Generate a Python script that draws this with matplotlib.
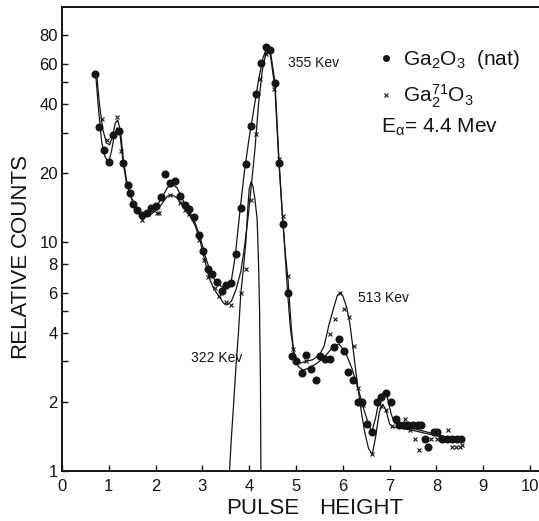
import numpy as np
import matplotlib
matplotlib.use("Agg")
import matplotlib.pyplot as plt
from matplotlib.lines import Line2D
from matplotlib.ticker import FixedLocator, NullFormatter

plt.rcParams['font.family'] = ['Liberation Sans', 'DejaVu Sans']
plt.rcParams['mathtext.default'] = 'regular'

INK = '#151515'

# Ga2O3 (nat) measured points
nat_x = [0.71, 0.80, 0.90, 1.01, 1.10, 1.21, 1.30, 1.41, 1.46, 1.51, 1.61, 1.71,
         1.81, 1.91, 2.01, 2.11, 2.21, 2.31, 2.42, 2.52, 2.62, 2.72, 2.82, 2.93,
         3.01, 3.11, 3.21, 3.31, 3.41, 3.51, 3.61, 3.72, 3.82, 3.94, 4.04, 4.15,
         4.26, 4.35, 4.45, 4.56, 4.63, 4.73, 4.83, 4.92, 5.01, 5.12, 5.22, 5.32,
         5.42, 5.52, 5.62, 5.72, 5.82, 5.92, 6.02, 6.12, 6.22, 6.32, 6.41, 6.52,
         6.63, 6.74, 6.82, 6.92, 7.02, 7.13, 7.20, 7.30, 7.40, 7.50, 7.60, 7.67,
         7.76, 7.83, 7.95, 8.02, 8.13, 8.23, 8.33, 8.43, 8.53]
nat_y = [54, 31.8, 25.1, 22.2, 29.3, 30.5, 22.1, 17.7, 16.3, 14.6, 13.8, 13.1,
         13.3, 14.0, 14.3, 15.7, 19.8, 18.0, 18.5, 15.9, 14.4, 13.9, 12.8, 10.7,
         9.1, 7.6, 7.2, 6.7, 6.1, 6.5, 6.6, 8.8, 14.1, 21.9, 31.9, 44.3,
         60.5, 70.6, 68.7, 49.2, 22.0, 11.9, 5.95, 3.18, 3.02, 2.68, 3.2, 2.78,
         2.49, 3.18, 3.07, 3.07, 3.48, 3.76, 3.32, 2.70, 2.50, 2.0, 2.0, 1.60,
         1.48, 2.0, 2.10, 2.18, 2.0, 1.69, 1.59, 1.59, 1.59, 1.59, 1.59, 1.59,
         1.38, 1.27, 1.48, 1.48, 1.38, 1.38, 1.38, 1.38, 1.38]

# Ga71 2O3 measured points
g71_x = [0.85, 0.96, 1.17, 1.27, 1.71, 2.02, 2.07, 2.31, 2.53, 2.62, 2.71, 2.92,
         3.03, 3.13, 3.27, 3.36, 3.50, 3.61, 3.83, 3.94, 4.03, 4.15, 4.24, 4.35,
         4.52, 4.63, 4.73, 4.83, 4.93, 5.22, 5.72, 5.83, 5.94, 6.02, 6.13, 6.24,
         6.32, 6.44, 6.63, 6.81, 6.92, 7.06, 7.32, 7.43, 7.54, 7.63, 7.88, 8.02,
         8.24, 8.34, 8.42, 8.50, 8.55]
g71_y = [34.3, 27.8, 35.0, 25.0, 12.4, 13.4, 13.4, 16.0, 14.8, 13.7, 13.2, 10.2,
         8.3, 7.0, 6.3, 5.8, 5.43, 5.3, 6.0, 7.6, 15.2, 29.7, 51.3, 66.0,
         46.4, 23.0, 12.9, 7.1, 3.4, 3.02, 3.96, 4.6, 6.0, 5.1, 4.67, 3.5,
         2.29, 1.93, 1.18, 1.92, 1.84, 1.56, 1.69, 1.5, 1.37, 1.23, 1.37, 1.37,
         1.5, 1.27, 1.27, 1.27, 1.3]

# hand-drawn curve through the nat points
nat_fit_x = [0.72, 0.78, 0.85, 0.92, 1.00, 1.06, 1.12, 1.18, 1.24, 1.30, 1.38, 1.46,
             1.55, 1.65, 1.75, 1.85, 1.95, 2.05, 2.15, 2.25, 2.35, 2.45, 2.55, 2.65,
             2.75, 2.85, 2.95, 3.05, 3.15, 3.25, 3.35, 3.45, 3.55, 3.62, 3.70, 3.80,
             3.90, 4.00, 4.10, 4.20, 4.30, 4.37, 4.45, 4.55, 4.63, 4.70, 4.75, 4.82,
             4.88, 4.95, 5.05, 5.15, 5.30, 5.45, 5.56, 5.70, 5.81, 5.92, 6.06, 6.20,
             6.35, 6.45, 6.55, 6.62, 6.70, 6.78, 6.87, 6.95, 7.03, 7.10, 7.50, 8.00,
             8.55]
nat_fit_y = [54, 38, 27, 23.5, 22.3, 25, 29.5, 31.5, 29.5, 22.5, 18, 16,
             14.4, 13.5, 13.2, 13.4, 13.9, 14.6, 15.8, 17.2, 17.8, 17.3, 15.8, 14.2,
             13.2, 12.0, 10.5, 8.8, 7.6, 6.9, 6.5, 6.3, 6.4, 6.8, 8.6, 13.5,
             20.5, 28.5, 38, 51, 64, 70, 68.5, 50, 24, 14, 10, 6,
             4.2, 3.3, 2.85, 2.75, 2.82, 2.95, 3.07, 3.3, 3.51, 3.58, 3.28, 2.78,
             2.2, 1.85, 1.6, 1.48, 1.7, 2.05, 2.2, 2.1, 1.78, 1.62, 1.53, 1.44,
             1.35]

# hand-drawn curve through the Ga71 points
g71_fit_x = [0.74, 0.80, 0.87, 0.95, 1.02, 1.08, 1.14, 1.19, 1.25, 1.31, 1.38, 1.46,
             1.55, 1.65, 1.75, 1.85, 1.95, 2.05, 2.15, 2.25, 2.35, 2.45, 2.55, 2.65,
             2.75, 2.85, 2.95, 3.05, 3.15, 3.25, 3.35, 3.45, 3.52, 3.62, 3.72, 3.82,
             3.90, 3.98, 4.05, 4.12, 4.20, 4.28, 4.36, 4.45, 4.55, 4.63, 4.70, 4.77,
             4.83, 4.90, 4.95, 5.02, 5.10, 5.20, 5.35, 5.50, 5.60, 5.70, 5.80, 5.88,
             5.94, 6.00, 6.08, 6.15, 6.22, 6.30, 6.38, 6.46, 6.55, 6.63, 6.70, 6.78,
             6.85, 6.92, 7.00, 7.08, 7.50, 8.00, 8.55]
g71_fit_y = [54, 40, 31, 27, 26.5, 29, 33, 34, 30.5, 23, 18.5, 16,
             14.3, 13.2, 12.8, 13.0, 13.4, 13.9, 14.8, 15.8, 16.0, 15.6, 14.7, 13.6,
             12.8, 11.7, 10.1, 8.3, 6.9, 6.2, 5.8, 5.4, 5.3, 5.5, 6.2, 7.4,
             9.5, 13, 18, 25, 40, 56, 67, 66, 47, 23, 14, 9,
             6.8, 4.2, 3.3, 3.05, 2.95, 3.0, 3.05, 3.2, 3.5, 4.3, 5.1, 5.8,
             6.0, 5.8, 5.2, 4.4, 3.4, 2.5, 1.9, 1.5, 1.25, 1.18, 1.4, 1.8,
             1.95, 1.85, 1.6, 1.55, 1.5, 1.42, 1.35]

# resolved 322 keV line
p322_x = [3.58, 3.62, 3.67, 3.72, 3.77, 3.82, 3.88, 3.93, 3.97, 4.00, 4.04, 4.08,
          4.12, 4.17, 4.20, 4.22, 4.24, 4.25]
p322_y = [1.0, 1.4, 2.0, 2.9, 4.0, 5.9, 7.8, 10, 14, 17, 18.3, 17.5,
          15.5, 12.5, 8, 5.2, 2.5, 1.0]

y_major = [1, 2, 4, 6, 8, 10, 20, 40, 60, 80]
y_minor = [3, 5, 30, 50]
x_major = list(range(0, 11))

fig = plt.figure(figsize=(5.39, 5.21), dpi=100)
ax = fig.add_axes([62 / 539, 50.3 / 521, 477 / 539, 463.7 / 521])

ax.plot(nat_fit_x, nat_fit_y, color=INK, lw=0.9)
ax.plot(g71_fit_x, g71_fit_y, color=INK, lw=0.9)
ax.plot(p322_x, p322_y, color=INK, lw=0.9)
ax.plot(nat_x, nat_y, 'o', color=INK, ms=4.8, mec=INK)
ax.plot(g71_x, g71_y, 'x', color=INK, ms=2.8, mew=0.8)

ax.set_yscale('log')
ax.set_xlim(0, 477 / 46.8)
ax.set_ylim(1, 106)
ax.yaxis.set_major_locator(FixedLocator(y_major))
ax.set_yticklabels([str(v) for v in y_major])
ax.yaxis.set_minor_locator(FixedLocator(y_minor))
ax.yaxis.set_minor_formatter(NullFormatter())
ax.set_xticks(x_major)
ax.set_xticklabels([str(v) for v in x_major])
ax.tick_params(axis='both', which='both', direction='in', colors=INK,
               labelsize=12, width=1.0)
ax.tick_params(axis='y', which='major', length=4, pad=3)
ax.tick_params(axis='y', which='minor', length=4)
ax.tick_params(axis='x', which='major', length=4, pad=6)

for side in ['left', 'bottom', 'top']:
    ax.spines[side].set_linewidth(1.4)
    ax.spines[side].set_color(INK)
ax.spines['right'].set_visible(False)

ax.text(4.83, 60.5, '355 Kev', fontsize=10, va='center', color=INK)
ax.text(6.32, 5.7, '513 Kev', fontsize=10, va='center', color=INK)
ax.text(2.76, 3.12, '322 Kev', fontsize=10, va='center', color=INK)

handles = [Line2D([], [], ls='none', marker='o', ms=4, color=INK),
           Line2D([], [], ls='none', marker='x', ms=3, mew=0.8, color=INK)]
labels = ['Ga$_2$O$_3$  (nat)', 'Ga$^{71}_2$O$_3$']
leg = ax.legend(handles, labels, loc='upper left',
                bbox_to_anchor=(378 / 539, 1 - 48 / 521),
                bbox_transform=fig.transFigure, frameon=False, fontsize=15,
                handlelength=0.8, handletextpad=0.4, labelspacing=0.55,
                borderaxespad=0, borderpad=0)
for t in leg.get_texts():
    t.set_color(INK)

fig.text(381 / 539, 1 - 127 / 521, r'E$_\alpha$= 4.4 Mev', fontsize=15,
         va='center', ha='left', color=INK)

# axis titles, lettered in two words as on the original
fig.text(20 / 539, 1 - 305 / 521, 'RELATIVE', rotation=90, fontsize=16,
         va='center', ha='center', color=INK)
fig.text(20 / 539, 1 - 200 / 521, 'COUNTS', rotation=90, fontsize=16,
         va='center', ha='center', color=INK)
fig.text(263 / 539, 1 - 508 / 521, 'PULSE', fontsize=16,
         va='center', ha='center', color=INK)
fig.text(361 / 539, 1 - 508 / 521, 'HEIGHT', fontsize=16,
         va='center', ha='center', color=INK)

fig.savefig('out.png', dpi=100)
